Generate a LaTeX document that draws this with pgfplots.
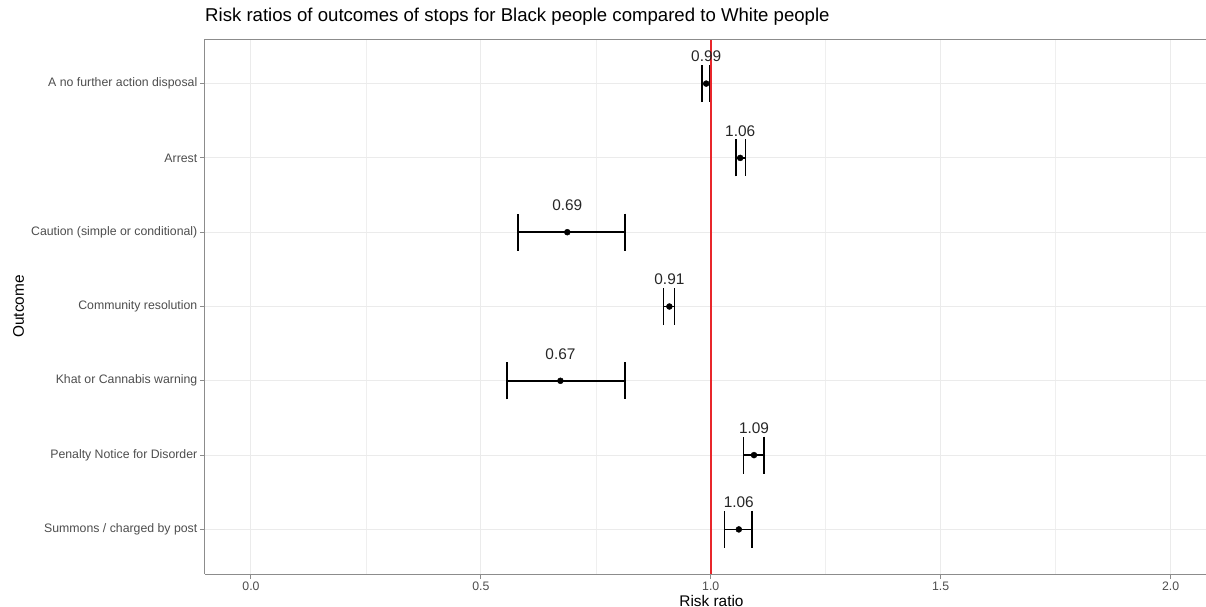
\documentclass[border=0pt]{standalone}
\usepackage{pgfplots}
\pgfplotsset{compat=1.18}
\usepackage{pgfplotstable}
\usepackage{fontspec}
\setmainfont{Liberation Sans}

\definecolor{tickgray}{HTML}{4D4D4D}
\definecolor{gridgray}{HTML}{EBEBEB}
\definecolor{framegray}{HTML}{8C8C8C}
\definecolor{refred}{HTML}{E8262B}

% risk ratio estimates with lower / upper bounds; row 7 is drawn at the top
\pgfplotstableread{
row est   lo    hi
7   0.990 0.981 0.998
6   1.064 1.055 1.076
5   0.688 0.581 0.813
4   0.910 0.897 0.921
3   0.673 0.557 0.813
2   1.094 1.071 1.116
1   1.061 1.030 1.090
}\riskratios

\begin{document}
\begin{tikzpicture}
\useasboundingbox (-205pt,-33pt) rectangle (1001pt,574pt);
\begin{axis}[
  scale only axis,
  width=1001pt, height=535pt,
  xmin=-0.1, xmax=2.077,
  ymin=0.4, ymax=7.6,
  /pgf/number format/assume math mode=true,
  axis lines*=left,
  axis line style={framegray, line width=1pt},
  after end axis/.code={\draw[framegray, line width=1pt] (rel axis cs:0,1) -- (rel axis cs:1,1);},
  xtick={0,0.5,1,1.5,2},
  xticklabels={0.0,0.5,1.0,1.5,2.0},
  minor xtick={0.25,0.75,1.25,1.75},
  ytick={1,2,3,4,5,6,7},
  yticklabels={Summons / charged by post, Penalty Notice for Disorder, Khat or Cannabis warning, Community resolution, Caution (simple or conditional), Arrest, A no further action disposal},
  tick align=outside,
  major tick length=4.5pt,
  minor tick length=0pt,
  tick style={framegray, line width=1pt},
  grid=both,
  major grid style={gridgray, line width=1pt},
  minor grid style={gridgray!80!white, line width=0.6pt},
  ticklabel style={font=\fontsize{12.3}{14}\selectfont, text=tickgray},
  yticklabel style={inner sep=0pt, xshift=-3pt},
  title={Risk ratios of outcomes of stops for Black people compared to White people},
  title style={at={(axis description cs:0,1)}, anchor=base west, yshift=12pt, inner sep=0pt,
               font=\fontsize{18.6}{22}\selectfont},
  xlabel={Risk ratio},
  xlabel style={at={([yshift=-32pt]axis description cs:0.506,0)}, anchor=base, inner sep=0pt,
                font=\fontsize{15.4}{18}\selectfont},
  ylabel={Outcome},
  ylabel style={at={([xshift=-181pt]axis description cs:0,0.5)}, anchor=base, inner sep=0pt,
                font=\fontsize{15.4}{18}\selectfont},
]
% confidence intervals and point estimates
\addplot[only marks, mark=*, mark size=3pt, black,
  error bars/.cd, x dir=both, x explicit,
  error mark=|,
  error bar style={line width=1.5pt, black},
  error mark options={mark size=18.5pt, line width=1.5pt, black}]
  table[x=est, y=row,
        x error plus expr=\thisrow{hi}-\thisrow{est},
        x error minus expr=\thisrow{est}-\thisrow{lo}] {\riskratios};
% value labels above each estimate
\addplot[only marks, mark=none, point meta=x,
  nodes near coords={\pgfmathprintnumber[fixed, fixed zerofill, precision=2]{\pgfplotspointmeta}},
  every node near coord/.style={anchor=center, yshift=27pt, inner sep=0pt,
    font=\fontsize{15.4}{18}\selectfont, text=black!85}]
  table[x=est, y=row] {\riskratios};
% reference line at a risk ratio of one
\addplot[refred, line width=1.6pt] coordinates {(1,0.4) (1,7.6)};
\end{axis}
\end{tikzpicture}
\end{document}
